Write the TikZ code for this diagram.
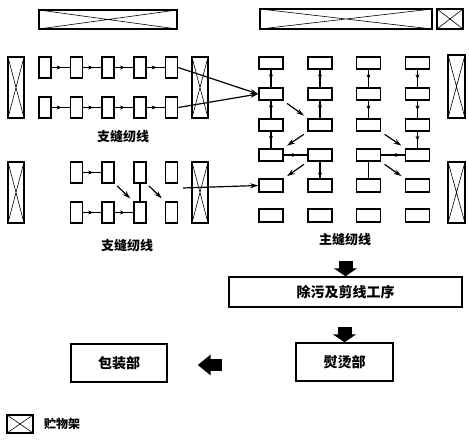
\documentclass[tikz,border=0pt]{standalone}
\usepackage{fontspec}
\newfontfamily\cjk{Noto Sans CJK SC}
\usetikzlibrary{arrows.meta,decorations.markings}
\begin{document}
\begin{tikzpicture}[x=1pt,y=-1pt,
  rack/.style={draw, line width=1.5pt, inner sep=0pt,
    path picture={\draw[line width=0.6pt]
      (path picture bounding box.north west) -- (path picture bounding box.south east)
      (path picture bounding box.south west) -- (path picture bounding box.north east);}},
  sbox/.style={draw, line width=1.6pt, inner sep=0pt, minimum width=12, minimum height=21},
  mbox/.style={draw, line width=1.6pt, inner sep=0pt, minimum width=24, minimum height=12.5},
  bigbox/.style={draw, line width=1.4pt, inner sep=0pt, font=\cjk\bfseries\fontsize{14}{14}\selectfont},
  conn/.style={line width=1.2pt},
  midarrow/.style={postaction={decorate}, decoration={markings,
    mark=at position 0.55 with {\arrow{Stealth[length=5pt,width=4pt]}}}},
  tiparrow/.style={-{Stealth[length=8pt,width=5pt]}},
  lbl/.style={font=\cjk\bfseries\fontsize{13}{13}\selectfont, inner sep=0pt},
  fatdown/.style={line width=14pt, -{Triangle[width=23pt,length=8pt]}},
  fatleft/.style={line width=12pt, -{Triangle[width=20pt,length=13pt]}}
]
\useasboundingbox (0,0) rectangle (469,446);

% storage racks
\node[rack, minimum width=138, minimum height=19] (t1) at (108,19.5) {};
\node[rack, minimum width=172, minimum height=20] (t2) at (346,19) {};
\node[rack, minimum width=26, minimum height=20] (t3) at (450,19) {};
\node[rack, minimum width=16, minimum height=61] (l1) at (16,87.5) {};
\node[rack, minimum width=16, minimum height=61] (r1) at (200,87.5) {};
\node[rack, minimum width=16, minimum height=61] (l2) at (16,192.5) {};
\node[rack, minimum width=16, minimum height=61] (r2) at (200,192.5) {};
\node[rack, minimum width=17, minimum height=63] (rr1) at (456.5,86.5) {};
\node[rack, minimum width=17, minimum height=61] (rr2) at (456.5,192.5) {};

% branch line 1
\foreach \r/\y in {1/67.5,2/107.5}
  \foreach \c/\x in {1/45,2/76.5,3/108,4/140,5/171.5}
    \node[sbox] (a\r\c) at (\x,\y) {};
% branch line 2
\foreach \r/\y in {1/172.5,2/212.5}
  \foreach \c/\x in {1/76.5,2/108,3/140,4/171.5}
    \node[sbox] (b\r\c) at (\x,\y) {};
% main line
\foreach \r/\y in {1/63,2/94,3/125,4/155,5/185.5,6/215.5}
  \foreach \c/\x in {1/271,2/320,3/368.5,4/417.5}
    \node[mbox] (m\r\c) at (\x,\y) {};

% branch 1 connectors
\foreach \p/\q in {11/12,12/13,13/14,14/15,21/22,22/23,23/24,24/25}
  \draw[conn, midarrow] (a\p) -- (a\q);
\draw[conn, tiparrow] (a15.east) -- (m21.west);
\draw[conn, tiparrow] (a25.east) -- (m21.west);

% branch 2 connectors
\draw[conn, midarrow] (b11) -- (b12);
\draw[conn, midarrow] (b21) -- (b22);
\draw[conn, midarrow] (b22) -- (b23);
\draw[conn] (b13.south) -- (b23.north);
\draw[conn, tiparrow, shorten <=3pt, shorten >=4pt] (b12.south east) -- (b23.north west);
\draw[conn, tiparrow, shorten <=3pt, shorten >=4pt] (b13.south east) -- (b24.north west);
\coordinate (b2out) at (183,188);
\draw[conn, tiparrow] (b2out) -- (m51.west);

% main line connectors
\foreach \a/\b in {11/21,21/31,31/41,12/22,22/32,13/23,23/33,14/24,24/34,34/44,41/42,44/43,52/42}
  \draw[conn, midarrow] (m\a) -- (m\b);
\draw[conn] (m43) -- (m53);
\draw[conn, tiparrow, shorten <=4pt, shorten >=4pt] (m21.south east) -- (m32.north west);
\draw[conn, tiparrow, shorten <=4pt, shorten >=4pt] (m32.south west) -- (m41.north east);
\draw[conn, tiparrow, shorten <=4pt, shorten >=4pt] (m33.south east) -- (m44.north west);
\draw[conn, tiparrow, shorten <=4pt, shorten >=4pt] (m42.south west) -- (m51.north east);
\draw[conn, tiparrow, shorten <=4pt, shorten >=4pt] (m43.south east) -- (m54.north west);

% labels
\node[lbl] (lab1) at (123,137) {支缝纫线};
\node[lbl] (lab2) at (127,246) {支缝纫线};
\node[lbl] (lab3) at (345,240) {主缝纫线};

% lower process
\node[bigbox, minimum width=233, minimum height=30] (clean) at (345.5,292) {除污及剪线工序};
\node[bigbox, minimum width=97, minimum height=38] (iron) at (344.5,362) {熨烫部};
\node[bigbox, minimum width=96, minimum height=38] (pack) at (119,363) {包装部};
\draw[fatdown] ([yshift=15pt]clean.north) -- (clean.north);
\draw[fatdown] ([yshift=15pt]iron.north) -- (iron.north);
\draw[fatleft] ([xshift=-73pt,yshift=-3pt]iron.west) -- ([xshift=30pt,yshift=-2pt]pack.east);

% legend
\node[rack, line width=2pt, minimum width=26, minimum height=18] (leg) at (20,424) {};
\node[lbl, anchor=west, font=\cjk\bfseries\fontsize{12}{12}\selectfont] (legt) at (44,424) {贮物架};
\end{tikzpicture}
\end{document}
